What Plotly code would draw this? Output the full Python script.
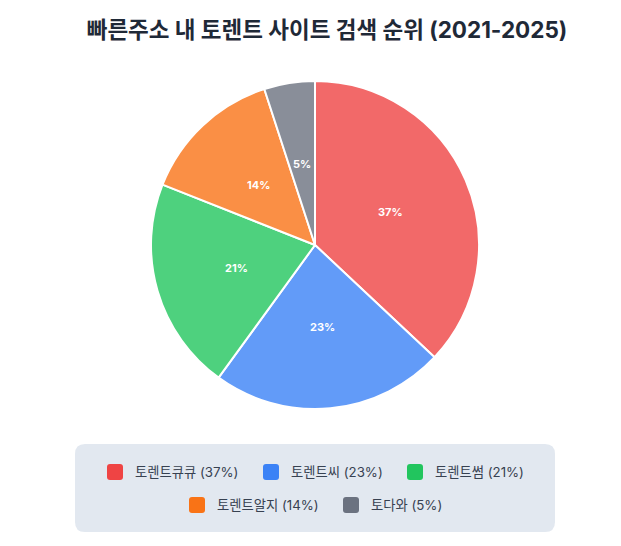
import math
import plotly.graph_objects as go

# data
sites = ['토렌트큐큐', '토렌트씨', '토렌트썸', '토렌트알지', '토다와']
shares = [37, 23, 21, 14, 5]
base_colors = ['#ef4444', '#3b82f6', '#22c55e', '#f97316', '#6b7280']
slice_colors = ['rgba(239,68,68,0.8)', 'rgba(59,130,246,0.8)', 'rgba(34,197,94,0.8)',
                'rgba(249,115,22,0.8)', 'rgba(107,114,128,0.8)']

# page has an 8px body margin, so the figure is a bit smaller than the window
OFF = 8
W, H = 621 - 2 * OFF, 546 - 2 * OFF
FONT = "Inter, 'Noto Sans CJK KR', sans-serif"


def px(x):
    return (x - OFF) / W


def py(y):
    return 1 - (y - OFF) / H


# pie geometry in window pixels
CX, CY, R = 315, 245, 164

fig = go.Figure()

fig.add_trace(go.Pie(
    labels=sites,
    values=shares,
    sort=False,
    direction='clockwise',
    rotation=0,
    marker=dict(colors=slice_colors, line=dict(color='white', width=2)),
    textinfo='none',
    hovertemplate='%{label}: %{value}%<extra></extra>',
    domain=dict(x=[px(CX - R), px(CX + R)], y=[py(CY + R), py(CY - R)]),
    showlegend=False,
))

annotations = []

# percentage labels at half radius, centred on each slice
total = sum(shares)
cum = 0
for v in shares:
    mid = (cum + v / 2) / total * 2 * math.pi
    cum += v
    lx = CX + R * 0.5 * math.sin(mid)
    ly = CY - R * 0.5 * math.cos(mid)
    annotations.append(dict(
        x=px(lx), y=py(ly), xref='paper', yref='paper',
        xanchor='center', yanchor='middle', showarrow=False,
        text=f"{round(v / total * 100)}%",
        font=dict(size=11, color='white', family=FONT, weight='bold'),
    ))

# legend box (rounded)
x0, x1, y0, y1, r = px(75), px(555), py(532), py(444), 10
rx, ry = r / W, r / H
path = (f"M {x0+rx},{y0} L {x1-rx},{y0} Q {x1},{y0} {x1},{y0+ry} "
        f"L {x1},{y1-ry} Q {x1},{y1} {x1-rx},{y1} L {x0+rx},{y1} "
        f"Q {x0},{y1} {x0},{y1-ry} L {x0},{y0+ry} Q {x0},{y0} {x0+rx},{y0} Z")
shapes = [dict(type='path', xref='paper', yref='paper', path=path,
               fillcolor='#e2e8f0', line=dict(width=0), layer='below')]

# legend item positions: (square left x, center y)
item_pos = [(107, 472), (263, 472), (407, 472), (189, 505), (343, 505)]
for (sx, cy), name, val, c in zip(item_pos, sites, shares, base_colors):
    s = 16
    a, b = px(sx), px(sx + s)
    t, u = py(cy + s / 2), py(cy - s / 2)
    qx, qy = 3 / W, 3 / H
    sq = (f"M {a+qx},{t} L {b-qx},{t} Q {b},{t} {b},{t+qy} L {b},{u-qy} "
          f"Q {b},{u} {b-qx},{u} L {a+qx},{u} Q {a},{u} {a},{u-qy} L {a},{t+qy} Q {a},{t} {a+qx},{t} Z")
    shapes.append(dict(type='path', xref='paper', yref='paper', path=sq,
                       fillcolor=c, line=dict(width=0)))
    annotations.append(dict(
        x=px(sx + s + 10), y=py(cy), xref='paper', yref='paper',
        xanchor='left', yanchor='middle', showarrow=False,
        text=f"{name} ({val}%)",
        font=dict(size=13.3, color='#374151', family=FONT),
    ))

fig.update_layout(
    width=W, height=H,
    margin=dict(l=0, r=0, t=0, b=0),
    paper_bgcolor='white',
    plot_bgcolor='white',
    title=dict(
        text='빠른주소 내 토렌트 사이트 검색 순위 (2021-2025)',
        x=px(327), xanchor='center', y=py(30), yanchor='middle',
        font=dict(size=22.5, color='#1f2937', family=FONT, weight='bold'),
    ),
    shapes=shapes,
    annotations=annotations,
)

fig.write_html("out.html")
